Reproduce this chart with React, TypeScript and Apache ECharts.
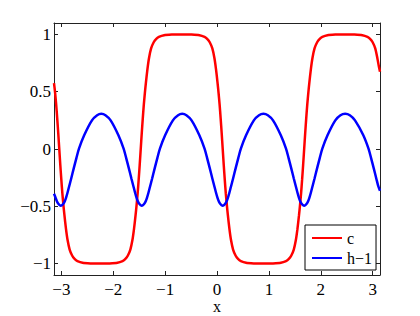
import React, { useEffect, useRef } from "react";
import * as echarts from "echarts";

// c (red)
const cPoints: [number, number][] = [
  [-3.1416, 0.575], [-3.12, 0.49], [-3.1, 0.39], [-3.08, 0.27], [-3.06, 0.14], [-3.04, 0],
  [-3.02, -0.14], [-3.0, -0.27], [-2.98, -0.39], [-2.96, -0.49], [-2.94, -0.58], [-2.91, -0.7],
  [-2.88, -0.795], [-2.84, -0.878], [-2.79, -0.932], [-2.74, -0.962], [-2.69, -0.978], [-2.59, -0.993],
  [-2.44, -0.999], [-2.34, -1.0], [-2.255, -1.0], [-2.17, -1.0], [-2.07, -0.999], [-1.92, -0.993],
  [-1.82, -0.978], [-1.77, -0.962], [-1.72, -0.932], [-1.67, -0.878], [-1.63, -0.795], [-1.6, -0.7],
  [-1.57, -0.58], [-1.55, -0.49], [-1.53, -0.39], [-1.51, -0.27], [-1.49, -0.14], [-1.47, 0],
  [-1.45, 0.14], [-1.43, 0.27], [-1.41, 0.39], [-1.39, 0.49], [-1.37, 0.58], [-1.34, 0.7],
  [-1.31, 0.795], [-1.27, 0.878], [-1.22, 0.932], [-1.17, 0.962], [-1.12, 0.978], [-1.02, 0.993],
  [-0.87, 0.999], [-0.77, 1.0], [-0.68, 1.0], [-0.59, 1.0], [-0.49, 0.999], [-0.34, 0.993],
  [-0.24, 0.978], [-0.19, 0.962], [-0.14, 0.932], [-0.09, 0.878], [-0.05, 0.795], [-0.02, 0.7],
  [0.01, 0.58], [0.03, 0.49], [0.05, 0.39], [0.07, 0.27], [0.09, 0.14], [0.11, 0],
  [0.13, -0.14], [0.15, -0.27], [0.17, -0.39], [0.19, -0.49], [0.21, -0.58], [0.24, -0.7],
  [0.27, -0.795], [0.31, -0.878], [0.36, -0.932], [0.41, -0.962], [0.46, -0.978], [0.56, -0.993],
  [0.71, -0.999], [0.81, -1.0], [0.895, -1.0], [0.98, -1.0], [1.08, -0.999], [1.23, -0.993],
  [1.33, -0.978], [1.38, -0.962], [1.43, -0.932], [1.48, -0.878], [1.52, -0.795], [1.55, -0.7],
  [1.58, -0.58], [1.6, -0.49], [1.62, -0.39], [1.64, -0.27], [1.66, -0.14], [1.68, 0],
  [1.7, 0.14], [1.72, 0.27], [1.74, 0.39], [1.76, 0.49], [1.78, 0.58], [1.81, 0.7],
  [1.84, 0.795], [1.88, 0.878], [1.93, 0.932], [1.98, 0.962], [2.03, 0.978], [2.13, 0.993],
  [2.28, 0.999], [2.38, 1.0], [2.465, 1.0], [2.55, 1.0], [2.65, 0.999], [2.8, 0.993],
  [2.9, 0.978], [2.95, 0.962], [3.0, 0.932], [3.05, 0.878], [3.09, 0.795], [3.12, 0.72],
  [3.1416, 0.675],
];

// h-1 (blue)
const hPoints: [number, number][] = [
  [-3.1416, -0.39], [-3.11, -0.427], [-3.09, -0.452], [-3.07, -0.47], [-3.05, -0.482], [-3.03, -0.491],
  [-3.01, -0.495], [-2.99, -0.491], [-2.97, -0.482], [-2.95, -0.47], [-2.93, -0.452], [-2.91, -0.427],
  [-2.88, -0.38], [-2.85, -0.327], [-2.81, -0.257], [-2.76, -0.167], [-2.71, -0.08], [-2.66, 0.003],
  [-2.56, 0.12], [-2.41, 0.25], [-2.31, 0.295], [-2.23, 0.307], [-2.15, 0.295], [-2.05, 0.25],
  [-1.9, 0.12], [-1.8, 0.003], [-1.75, -0.08], [-1.7, -0.167], [-1.65, -0.257], [-1.61, -0.327],
  [-1.58, -0.38], [-1.55, -0.427], [-1.53, -0.452], [-1.51, -0.47], [-1.49, -0.482], [-1.47, -0.491],
  [-1.45, -0.495], [-1.43, -0.491], [-1.41, -0.482], [-1.39, -0.47], [-1.37, -0.452], [-1.35, -0.427],
  [-1.32, -0.38], [-1.29, -0.327], [-1.25, -0.257], [-1.2, -0.167], [-1.15, -0.08], [-1.1, 0.003],
  [-1.0, 0.12], [-0.85, 0.25], [-0.75, 0.295], [-0.67, 0.307], [-0.59, 0.295], [-0.49, 0.25],
  [-0.34, 0.12], [-0.24, 0.003], [-0.19, -0.08], [-0.14, -0.167], [-0.09, -0.257], [-0.05, -0.327],
  [-0.02, -0.38], [0.01, -0.427], [0.03, -0.452], [0.05, -0.47], [0.07, -0.482], [0.09, -0.491],
  [0.11, -0.495], [0.13, -0.491], [0.15, -0.482], [0.17, -0.47], [0.19, -0.452], [0.21, -0.427],
  [0.24, -0.38], [0.27, -0.327], [0.31, -0.257], [0.36, -0.167], [0.41, -0.08], [0.46, 0.003],
  [0.56, 0.12], [0.71, 0.25], [0.81, 0.295], [0.895, 0.307], [0.98, 0.295], [1.08, 0.25],
  [1.23, 0.12], [1.33, 0.003], [1.38, -0.08], [1.43, -0.167], [1.48, -0.257], [1.52, -0.327],
  [1.55, -0.38], [1.58, -0.427], [1.6, -0.452], [1.62, -0.47], [1.64, -0.482], [1.66, -0.491],
  [1.68, -0.495], [1.7, -0.491], [1.72, -0.482], [1.74, -0.47], [1.76, -0.452], [1.78, -0.427],
  [1.81, -0.38], [1.84, -0.327], [1.88, -0.257], [1.93, -0.167], [1.98, -0.08], [2.03, 0.003],
  [2.13, 0.12], [2.28, 0.25], [2.38, 0.295], [2.47, 0.307], [2.56, 0.295], [2.66, 0.25],
  [2.82, 0.12], [2.92, 0.003], [2.97, -0.08], [3.02, -0.167], [3.07, -0.257], [3.11, -0.327],
  [3.1416, -0.365],
];

const seriesNames = ["c", "h\u22121"];
const xTicks = [-3, -2, -1, 0, 1, 2, 3];
const yTicks = [-1, -0.5, 0, 0.5, 1];
const xRange = [-Math.PI, Math.PI];
const yRange = [-1.1, 1.1];
const xLabel = "x";

const FONT = "Liberation Serif";
const FS = 17;
const AXIS_COLOR = "#222222";
const fmt = (v: number) => String(v).replace("-", "\u2212");

export default function App() {
  const ref = useRef<HTMLDivElement>(null);
  useEffect(() => {
    if (!ref.current) return;
    const chart = echarts.init(ref.current, undefined, { renderer: "svg" });
    const axisLine = { show: true, onZero: false, lineStyle: { color: AXIS_COLOR, width: 1 } };
    const xTick = { show: true, inside: true, length: 4, customValues: xTicks, lineStyle: { color: AXIS_COLOR } };
    const yTick = { show: true, inside: true, length: 4, customValues: yTicks, lineStyle: { color: AXIS_COLOR } };
    const labelStyle = { fontFamily: FONT, fontSize: FS, color: "#000000", fontWeight: "normal" as const };
    chart.setOption({
      animation: false,
      backgroundColor: "#ffffff",
      textStyle: { fontFamily: FONT, fontSize: FS },
      grid: { left: 54, top: 23, width: 326, height: 252, containLabel: false, outerBoundsMode: "none" },
      legend: {
        data: seriesNames,
        orient: "vertical",
        left: 305,
        top: 225,
        padding: [5, 4, 4, 6],
        itemWidth: 30,
        itemHeight: 2,
        itemGap: 4,
        backgroundColor: "#ffffff",
        borderColor: "#000000",
        borderWidth: 1,
        borderRadius: 0,
        textStyle: { ...labelStyle, fontSize: 16, lineHeight: 16 },
      },
      xAxis: [
        {
          type: "value",
          min: xRange[0],
          max: xRange[1],
          position: "bottom",
          name: xLabel,
          nameLocation: "middle",
          nameGap: 24,
          nameMoveOverlap: false,
          nameTextStyle: { ...labelStyle, fontSize: 16, verticalAlign: "top", lineHeight: 14 },
          axisLine,
          axisTick: xTick,
          axisLabel: { ...labelStyle, customValues: xTicks, formatter: fmt, margin: 6, lineHeight: 16 },
          splitLine: { show: false },
        },
        {
          type: "value",
          min: xRange[0],
          max: xRange[1],
          position: "top",
          axisLine,
          axisTick: xTick,
          axisLabel: { show: false },
          splitLine: { show: false },
        },
      ],
      yAxis: [
        {
          type: "value",
          min: yRange[0],
          max: yRange[1],
          position: "left",
          axisLine,
          axisTick: yTick,
          axisLabel: { ...labelStyle, customValues: yTicks, formatter: fmt, margin: 3 },
          splitLine: { show: false },
        },
        {
          type: "value",
          min: yRange[0],
          max: yRange[1],
          position: "right",
          axisLine,
          axisTick: yTick,
          axisLabel: { show: false },
          splitLine: { show: false },
        },
      ],
      series: [
        {
          name: seriesNames[0],
          type: "line",
          data: cPoints,
          symbol: "none",
          smooth: 0.2,
          lineStyle: { color: "#ff0000", width: 2.5 },
          itemStyle: { color: "#ff0000" },
          xAxisIndex: 0,
          yAxisIndex: 0,
        },
        {
          name: seriesNames[1],
          type: "line",
          data: hPoints,
          symbol: "none",
          smooth: 0.3,
          lineStyle: { color: "#0000ff", width: 2.5 },
          itemStyle: { color: "#0000ff" },
          xAxisIndex: 0,
          yAxisIndex: 0,
        },
      ],
    });
    return () => chart.dispose();
  }, []);
  return <div ref={ref} style={{ position: "fixed", left: 0, top: 0, width: 420, height: 316 }} />;
}
